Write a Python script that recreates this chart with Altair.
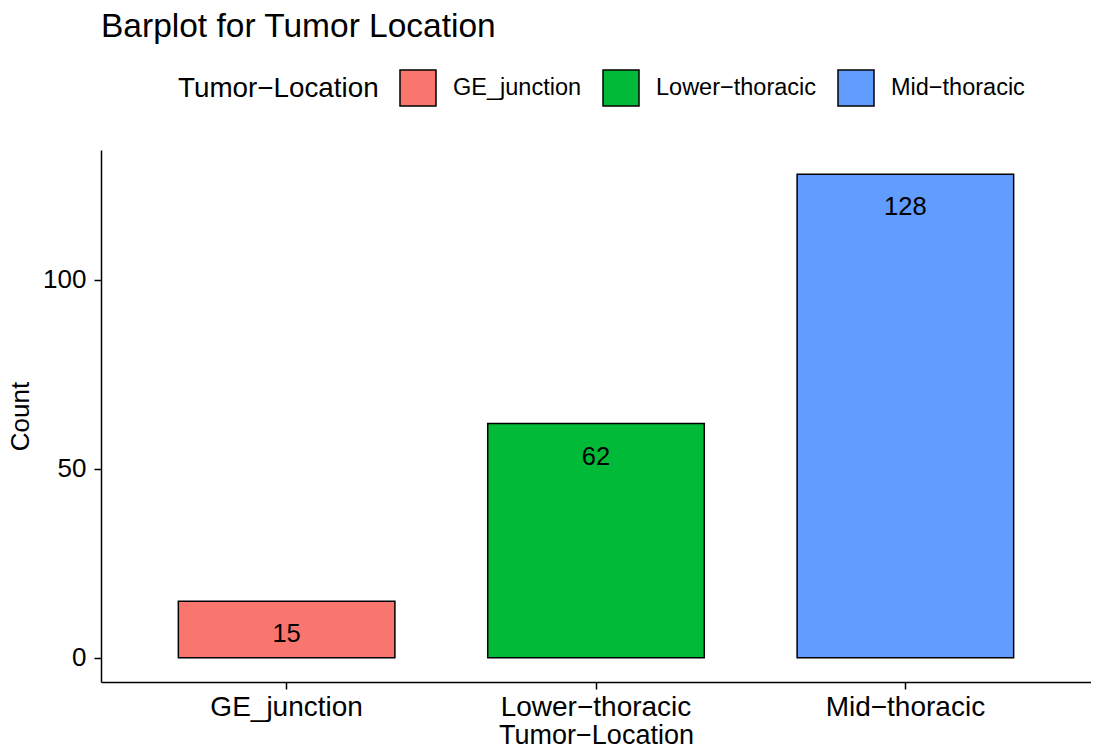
import altair as alt
import pandas as pd

categories = ["GE_junction", "Lower\u2212thoracic", "Mid\u2212thoracic"]
counts = [15, 62, 128]
colors = ["#F8766D", "#00BA38", "#619CFF"]

df = pd.DataFrame({"loc": categories, "count": counts})

FONT = "Liberation Sans"

x = alt.X("loc:N", sort=categories,
          scale=alt.Scale(paddingInner=0.3, paddingOuter=0.25),
          axis=alt.Axis(title="Tumor\u2212Location", labelAngle=0, labelFontSize=28,
                        titleFontSize=27, titleFontWeight="normal", labelColor="black",
                        titleColor="black", domainColor="black", domainWidth=1.5,
                        tickColor="black", tickWidth=1.5, tickSize=7, labelPadding=4,
                        labelLimit=0, titleBaseline="alphabetic", titleY=61,
                        labelFont=FONT, titleFont=FONT))
y = alt.Y("count:Q",
          scale=alt.Scale(domain=[-6.4, 134.4], nice=False, zero=False),
          axis=alt.Axis(title="Count", values=[0, 50, 100], labelFontSize=26,
                        titleFontSize=26, titleFontWeight="normal", labelColor="black",
                        titleColor="black", domainColor="black", domainWidth=1.5,
                        tickColor="black", tickWidth=1.5, tickSize=7, labelPadding=8,
                        titleBaseline="alphabetic", titleX=-73, titleAngle=270,
                        grid=False, labelFont=FONT, titleFont=FONT))

color = alt.Color("loc:N", sort=categories,
                  scale=alt.Scale(domain=categories, range=colors),
                  legend=alt.Legend(title="Tumor\u2212Location", orient="none",
                                    legendX=77, legendY=-81, direction="horizontal",
                                    titleOrient="left", titleFontSize=27.8,
                                    titleFontWeight="normal", titleColor="black",
                                    titlePadding=20, titleBaseline="middle",
                                    titleLimit=0, labelLimit=0,
                                    labelFontSize=23.5, labelColor="black",
                                    labelOffset=16, columnPadding=18,
                                    symbolType="square", symbolSize=1296,
                                    symbolStrokeColor="black", symbolStrokeWidth=1.5,
                                    symbolOpacity=1, labelFont=FONT, titleFont=FONT))

bars = alt.Chart(df).mark_bar(stroke="black", strokeWidth=1.5, opacity=1).encode(
    x=x, y=y, y2=alt.datum(0), color=color
)
labels = alt.Chart(df).mark_text(baseline="middle", dy=33, fontSize=25.5, color="black",
                                 font=FONT).encode(
    x=alt.X("loc:N", sort=categories), y="count:Q", text="count:Q"
)

chart = (bars + labels).properties(
    width=990, height=532,
    title=alt.TitleParams("Barplot for Tumor Location", anchor="start", frame="group",
                          fontSize=33.5, fontWeight="normal", color="black", font=FONT,
                          offset=25),
    autosize=alt.AutoSizeParams(type="none"),
    padding={"left": 93, "top": 142, "right": 0, "bottom": 65},
).configure(font=FONT).configure_view(stroke=None)

chart.save("out.html", embed_options={"renderer": "svg", "actions": False})
